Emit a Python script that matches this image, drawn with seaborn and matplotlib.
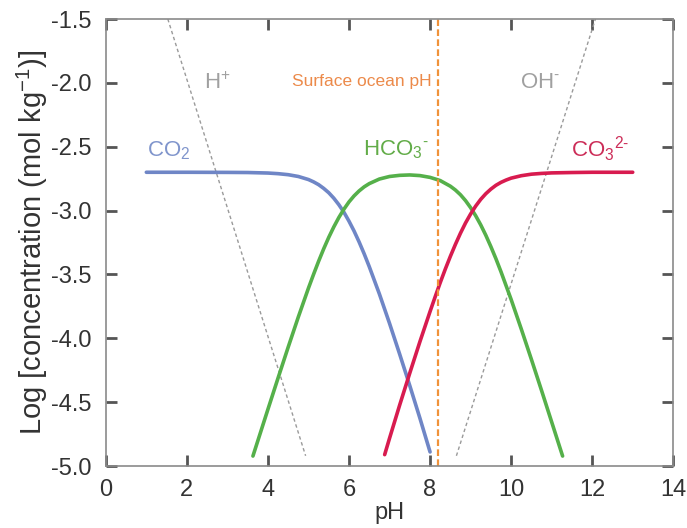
import matplotlib
matplotlib.use("Agg")
import matplotlib.pyplot as plt
import pandas as pd
import seaborn as sns

# values (pH, log concentration)
co2_ph = [1.0, 2.0, 3.0, 3.5, 4.0, 4.25, 4.5, 4.75, 5.0, 5.125, 5.25, 5.375,
          5.5, 5.625, 5.75, 5.875, 6.0, 6.125, 6.25, 6.375, 6.5, 6.75, 7.0,
          7.25, 7.5, 7.75, 8.0]
co2_log = [-2.700, -2.700, -2.701, -2.702, -2.706, -2.711, -2.719, -2.733,
           -2.757, -2.775, -2.797, -2.826, -2.860, -2.903, -2.954, -3.013,
           -3.083, -3.160, -3.246, -3.339, -3.439, -3.653, -3.883, -4.124,
           -4.371, -4.626, -4.890]

hco3_ph = [3.63, 4.0, 4.25, 4.5, 4.75, 5.0, 5.125, 5.25, 5.375, 5.5, 5.625,
           5.75, 5.875, 6.0, 6.125, 6.25, 6.375, 6.5, 6.75, 7.0, 7.25, 7.5,
           7.75, 8.0, 8.25, 8.5, 8.625, 8.75, 8.875, 9.0, 9.125, 9.25, 9.375,
           9.5, 9.625, 9.75, 10.0, 10.25, 10.5, 10.75, 11.0, 11.27]
hco3_log = [-4.922, -4.556, -4.311, -4.069, -3.833, -3.607, -3.500, -3.397,
            -3.300, -3.210, -3.128, -3.054, -2.989, -2.932, -2.885, -2.846,
            -2.814, -2.789, -2.753, -2.733, -2.724, -2.721, -2.726, -2.740,
            -2.765, -2.809, -2.839, -2.876, -2.922, -2.977, -3.040, -3.112,
            -3.193, -3.282, -3.377, -3.479, -3.696, -3.927, -4.165, -4.408,
            -4.655, -4.922]

co3_ph = [6.88, 7.0, 7.25, 7.5, 7.75, 8.0, 8.125, 8.25, 8.375, 8.5, 8.625,
          8.75, 8.875, 9.0, 9.125, 9.25, 9.375, 9.5, 9.625, 9.75, 9.875, 10.0,
          10.25, 10.5, 10.75, 11.0, 11.5, 12.0, 13.0]
co3_log = [-4.911, -4.783, -4.523, -4.272, -4.026, -3.790, -3.676, -3.565,
           -3.459, -3.359, -3.265, -3.177, -3.097, -3.027, -2.965, -2.912,
           -2.868, -2.832, -2.802, -2.779, -2.761, -2.746, -2.727, -2.715,
           -2.709, -2.705, -2.702, -2.700, -2.700]

h_ph = [1.53, 4.93]
h_log = [-1.5, -4.92]
oh_ph = [8.65, 12.08]
oh_log = [-4.92, -1.5]

surface_ph = 8.2

x_ticks = [0, 2, 4, 6, 8, 10, 12, 14]
y_ticks = [-5.0, -4.5, -4.0, -3.5, -3.0, -2.5, -2.0, -1.5]

blue = "#6f86c6"
green = "#55b04a"
red = "#d81b4f"
orange = "#f0923a"
grey = "#9a9a9a"

sns.set_style("ticks")
plt.rcParams["font.family"] = ["Liberation Sans", "DejaVu Sans"]
plt.rcParams["mathtext.fontset"] = "custom"
plt.rcParams["mathtext.rm"] = "Liberation Sans"
plt.rcParams["mathtext.it"] = "Liberation Sans:italic"
plt.rcParams["axes.unicode_minus"] = False

fig = plt.figure(figsize=(6.87, 5.28), dpi=100)
ax = fig.add_axes([0.154, 0.1174, 0.826, 0.8466])

def series(xs, ys):
    return pd.DataFrame({"pH": xs, "logc": ys})

sns.lineplot(data=series(h_ph, h_log), x="pH", y="logc", ax=ax, color=grey,
             lw=1.0, linestyle=(0, (2.5, 2)))
sns.lineplot(data=series(oh_ph, oh_log), x="pH", y="logc", ax=ax, color=grey,
             lw=1.0, linestyle=(0, (2.5, 2)))
sns.lineplot(data=series(co2_ph, co2_log), x="pH", y="logc", ax=ax, color=blue,
             lw=2.6, sort=False)
sns.lineplot(data=series(hco3_ph, hco3_log), x="pH", y="logc", ax=ax, color=green,
             lw=2.6, sort=False)
sns.lineplot(data=series(co3_ph, co3_log), x="pH", y="logc", ax=ax, color=red,
             lw=2.6, sort=False)
ax.axvline(surface_ph, color=orange, lw=1.6, linestyle=(0, (3, 1.5)))

# species labels
ax.text(2.75, -2.0, r"H$^{+}$", color="#a0a0a0", fontsize=16, ha="center", va="center")
ax.text(10.72, -2.0, r"OH$^{\text{-}}$", color="#a0a0a0", fontsize=16, ha="center", va="center")
ax.text(1.55, -2.53, r"CO$_2$", color="#8095cc", fontsize=16, ha="center", va="center")
ax.text(7.15, -2.52, r"HCO$_3$$^{\text{-}}$", color="#62ac48", fontsize=16, ha="center", va="center")
ax.text(12.2, -2.52, r"CO$_3$$^{2\text{-}}$", color="#cc2d58", fontsize=16, ha="center", va="center")
ax.text(8.05, -1.99, "Surface ocean pH", color="#ec8a4a", fontsize=12.5,
        ha="right", va="center")

ax.set_xlim(0, 14)
ax.set_ylim(-5.0, -1.5)
ax.set_xticks(x_ticks)
ax.set_yticks(y_ticks)
ax.set_xticklabels([str(t) for t in x_ticks])
ax.set_yticklabels(["%.1f" % t for t in y_ticks])
ax.tick_params(which="major", direction="in", length=8, width=2, color="#555555",
               labelsize=17, labelcolor="#333333", top=True, right=True,
               bottom=True, left=True, pad=10)
ax.tick_params(axis="x", pad=9)
for s in ax.spines.values():
    s.set_color("#8a8a8a")
    s.set_linewidth(1.2)

ax.set_xlabel("pH", fontsize=17, color="#333333", labelpad=1)
ax.set_ylabel(r"Log [concentration (mol kg$^{-1}$)]", fontsize=21,
              color="#333333", labelpad=1)

fig.savefig("out.png", dpi=100)
